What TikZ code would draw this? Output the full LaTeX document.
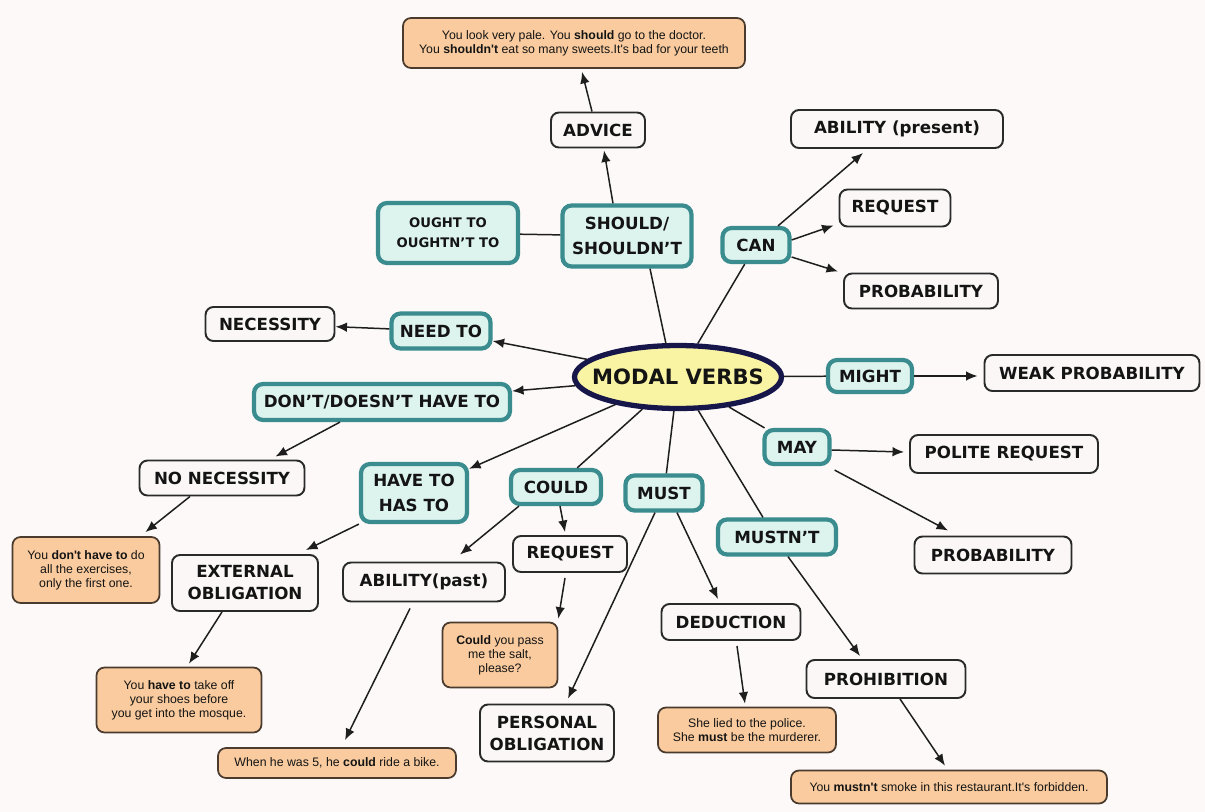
\documentclass[tikz,border=0pt]{standalone}
\usepackage{fontspec}
\setmainfont{DejaVu Sans}
\newfontfamily\exfont{Liberation Sans}
\usetikzlibrary{shapes.geometric,arrows.meta,calc}
\definecolor{bgc}{HTML}{FCF9F8}
\definecolor{wbd}{HTML}{2A2A2A}
\definecolor{wbf}{HTML}{FBF7F7}
\definecolor{gbd}{HTML}{3A8C8E}
\definecolor{gbf}{HTML}{DDF3EE}
\definecolor{obd}{HTML}{4A3B2E}
\definecolor{obf}{HTML}{F9CB9E}
\definecolor{elc}{HTML}{16164A}
\definecolor{elf}{HTML}{F9F4A4}
\definecolor{txt}{HTML}{141414}
\definecolor{lnc}{HTML}{1E1E1E}
\tikzset{
  sz/.style 2 args={minimum width=#1*0.2mm, minimum height=#2*0.2mm},
  wbox/.style={draw=wbd, fill=wbf, line width=1.1pt, rounded corners=1.6mm, inner sep=0pt, align=center, text=txt, font=\fontsize{9.5}{12.5}\selectfont\bfseries},
  gbox/.style={draw=gbd, fill=gbf, line width=2.4pt, rounded corners=1.8mm, inner sep=0pt, align=center, text=txt, font=\fontsize{9.5}{14}\selectfont\bfseries},
  obox/.style={draw=obd, fill=obf, line width=1pt, rounded corners=1.6mm, inner sep=0pt, align=center, text=txt, font=\exfont\fontsize{7}{8}\selectfont},
  arr/.style={-{Latex[length=2.3mm,width=1.9mm]}, line width=0.85pt, draw=lnc},
  ln/.style={line width=0.85pt, draw=lnc},
}
\begin{document}
\begin{tikzpicture}[x=0.02cm, y=-0.02cm]
\useasboundingbox (0,0) rectangle (1205,812);
\fill[bgc] (0,0) rectangle (1205,812);

% nodes
\node[obox, sz={342}{50}] (advex) at (574,43) {You look very pale. You \textbf{should} go to the doctor.\\You \textbf{shouldn't} eat so many sweets.It's bad for your teeth};
\node[wbox, sz={94}{35}] (advice) at (598,130) {ADVICE};
\node[wbox, sz={212}{38}] (abp) at (897,129) {ABILITY (present)};
\node[wbox, sz={111}{37}] (req1) at (895,208) {REQUEST};
\node[gbox, sz={67}{34}] (can) at (756,245) {CAN};
\node[wbox, sz={154}{35}] (prob1) at (921,291) {PROBABILITY};
\node[gbox, sz={140}{60}, font=\fontsize{7.5}{11.3}\selectfont\bfseries] (ought) at (448,233) {OUGHT TO\\OUGHTN'T TO};
\node[gbox, sz={129}{61}] (should) at (627,236) {SHOULD/\\SHOULDN'T};
\node[wbox, sz={129}{34}] (necess) at (270,324) {NECESSITY};
\node[gbox, sz={99}{35}] (needto) at (441,331) {NEED TO};
\node[ellipse, draw=elc, fill=elf, line width=3pt, sz={207}{63}, inner sep=0pt, text=txt, font=\fontsize{12}{14}\selectfont\bfseries] (modal) at (678,377) {\makebox[0pt]{MODAL VERBS}};
\node[gbox, sz={84}{32}] (might) at (870,376) {MIGHT};
\node[wbox, sz={215}{36}] (weak) at (1092,373) {WEAK PROBABILITY};
\node[gbox, sz={256}{36}] (dont) at (382,402) {DON'T/DOESN'T HAVE TO};
\node[gbox, sz={65}{34}] (may) at (797,447) {MAY};
\node[wbox, sz={188}{38}] (polreq) at (1004,454) {POLITE REQUEST};
\node[wbox, sz={165}{35}] (nonec) at (222,478) {NO NECESSITY};
\node[gbox, sz={106}{58}] (haveto) at (414,493) {HAVE TO\\HAS TO};
\node[gbox, sz={90}{34}] (could) at (556,487) {COULD};
\node[gbox, sz={77}{35}] (must) at (664,493) {MUST};
\node[gbox, sz={118}{35}] (mustnt) at (777,537) {MUSTN'T};
\node[wbox, sz={157}{37}] (prob2) at (993,555) {PROBABILITY};
\node[obox, sz={147}{66}] (ex1) at (86,570) {You \textbf{don't have to} do\\all the exercises,\\only the first one.};
\node[wbox, sz={146}{56}] (ext) at (245,583) {EXTERNAL\\OBLIGATION};
\node[wbox, sz={162}{39}] (abpast) at (424,582) {ABILITY(past)};
\node[wbox, sz={114}{36}] (req2) at (570,554) {REQUEST};
\node[obox, sz={115}{65}] (ex3) at (500,655) {\textbf{Could} you pass\\me the salt,\\please?};
\node[wbox, sz={139}{36}] (deduct) at (731,622) {DEDUCTION};
\node[wbox, sz={159}{38}] (prohib) at (886,679) {PROHIBITION};
\node[obox, sz={165}{65}] (ex2) at (179,700) {You \textbf{have to} take off\\your shoes before\\you get into the mosque.};
\node[wbox, sz={134}{57}] (personal) at (547,733) {PERSONAL\\OBLIGATION};
\node[obox, sz={178}{45}] (ex4) at (747,730) {She lied to the police.\\She \textbf{must} be the murderer.};
\node[obox, sz={238}{30}] (ex6) at (337,763) {When he was 5, he \textbf{could} ride a bike.};
\node[obox, sz={316}{33}] (ex5) at (949,787) {You \textbf{mustn't} smoke in this restaurant.It's forbidden.};

% connectors
\draw[arr] ($(advice.north)+(-6,0)$) -- ($(advex.south)+(8,3)$);
\draw[arr] ($(should.north)+(-14,0)$) -- ($(advice.south)+(6,2)$);
\draw[ln] ($(modal.north)+(-12,1)$) -- ($(should.south)+(23,0)$);
\draw[ln] (ought) -- (should);
\draw[ln] (modal) -- (can);
\draw[arr] ($(can.north)+(22,0)$) -- ($(abp.south)+(-34,4)$);
\draw[arr] ($(can.east)+(0,-5)$) -- ($(req1.south west)+(-5,-2)$);
\draw[arr] ($(can.east)+(0,12)$) -- ($(prob1.north west)+(-5,-1)$);
\draw[arr] (modal) -- (needto);
\draw[arr] (needto) -- (necess);
\draw[arr] (modal) -- (dont);
\draw[arr] ($(dont.south)+(-42,0)$) -- ($(nonec.north east)+(-30,-3)$);
\draw[arr] ($(nonec.south)+(-32,0)$) -- ($(ex1.north east)+(-15,-4)$);
\draw[arr] (modal) -- (haveto);
\draw[arr] (haveto.south west) -- ($(ext.north east)+(-13,-4)$);
\draw[arr] ($(ext.south)+(-23,0)$) -- ($(ex2.north)+(10,-3)$);
\draw[ln] (modal) -- (could);
\draw[arr] ($(could.south west)+(10,0)$) -- ($(abpast.north)+(36,-7)$);
\draw[arr] ($(could.south)+(4,0)$) -- ($(req2.north)+(-5,-3)$);
\draw[arr] ($(req2.south)+(-5,5)$) -- ($(ex3.north east)+(0,-3)$);
\draw[ln] (modal) -- (must);
\draw[arr] ($(must.south)+(-9,0)$) -- ($(personal.north)+(21,-5)$);
\draw[arr] ($(must.south)+(13,0)$) -- ($(deduct.north)+(-13,-4)$);
\draw[arr] ($(deduct.south)+(6,5)$) -- ($(ex4.north)+(-2,-3)$);
\draw[ln] (modal) -- ($(mustnt.north)+(-14,0)$);
\draw[arr] ($(mustnt.south)+(11,0)$) -- ($(prohib.north)+(-26,-3)$);
\draw[arr] ($(prohib.south)+(14,0)$) -- ($(ex5.north)+(-4,-4)$);
\draw[ln] (modal) -- (may);
\draw[arr] ($(may.east)+(0,3)$) -- ($(polreq.west)+(-5,-2)$);
\draw[arr] ($(may.south east)+(3,4)$) -- ($(prob2.north)+(-45,-5)$);
\draw[ln] (modal) -- (might);
\draw[arr] (might) -- ($(weak.west)+(-6,3)$);
\draw[arr] ($(abpast.south)+(-14,6)$) -- ($(ex6.north)+(8,-7)$);
\end{tikzpicture}
\end{document}
